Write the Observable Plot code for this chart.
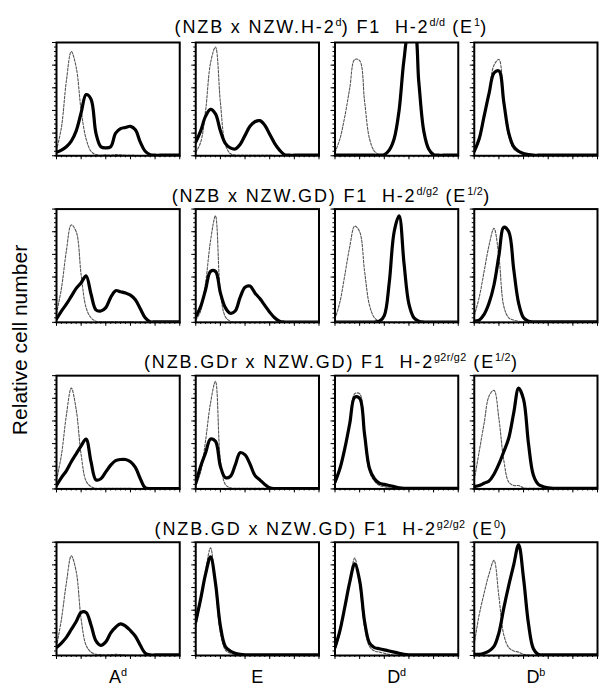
<!DOCTYPE html>
<html><head><meta charset="utf-8">
<script src="https://cdn.jsdelivr.net/npm/d3@7"></script>
<script src="https://cdn.jsdelivr.net/npm/@observablehq/plot@0.6"></script>
<style>
html,body{margin:0;padding:0;background:#fff;}
#chart{width:602px;height:686px;}
</style></head><body><div id="chart"></div>
<script>
// ---- categories & labels ----
const rowKeys = ["r1", "r2", "r3", "r4"];
const rowTitles = [
  "(NZB x NZW.H-2^{d}) F1  H-2^{d/d} (E^{1})",
  "(NZB x NZW.GD) F1  H-2^{d/g2} (E^{1/2})",
  "(NZB.GDr x NZW.GD) F1  H-2^{g2r/g2} (E^{1/2})",
  "(NZB.GD x NZW.GD) F1  H-2^{g2/g2} (E^{0})"
];
const markerKeys = ["Ad", "E", "Dd", "Db"];
const markerLabels = ["A^{d}", "E", "D^{d}", "D^{b}"];
const yLabel = "Relative cell number";

// ---- fluorescence channel grid (relative units) ----
const xGrid = [0,4,8,12,16,20,24,28,32,36,40,44,48,52,56,60,64,68,72,76,80,84,88,92,96,100];
const minorTicks = [0,4,8,12,16,20,24,28,32,36,40,44,48,52,56,60,64,68,72,76,80,84,88,92,96,100];
const majorTicks = [0,20,40,60,80,100];

// ---- histograms: control (dotted) and stained (thick) ----
const r1_Ad_ctrl  = [5,25,66,92,78,40,15,4,1,0.5, 0.8,0.5,1,0.8,0.5,0.5,0.3,0.3,0.3,0.3, 0.3,0.3,0.3,0.3,0.3,0.3];
const r1_Ad_stain = [3,5,8,13,22,38,54,50,20,8, 7,8,20,24,25,26,23,12,4,1, 0.5,0.5,0.5,0.5,0.5,0.5];
const r1_E_ctrl   = [3,12,40,82,96,47,10,2,0.5,0.5, 0.5,0.5,0.5,0.5,0.5,0.5,0.3,0.3,0.3,0.3, 0.3,0.3,0.3,0.3,0.3,0.3];
const r1_E_stain  = [12,22,35,41,37,22,11,7,6,10, 18,26,30,31,27,19,11,5,1,0.5, 0.5,0.5,0.5,0.5,0.5,0.5];
const r1_Dd_ctrl  = [3,15,35,60,85,84,48,15,4,1, 0.3,0.3,0.3,0.3,0.3,0.3,0.3,0.3,0.3,0.3, 0.3,0.3,0.3,0.3,0.3,0.3];
const r1_Dd_stain = [0.5,0.5,0.5,0.5,0.5,0.5,0.5,0.5,0.5,0.5, 1,5,15,40,85,110,112,65,22,6, 1,0.5,0.5,0.5,0.5,0.5];
const r1_Db_ctrl  = [3,13,33,56,80,85,45,17,6,3, 1,0.3,0.3,0.3,0.3,0.3,0.3,0.3,0.3,0.3, 0.3,0.3,0.3,0.3,0.3,0.3];
const r1_Db_stain = [4,15,35,55,73,75,47,20,8,4, 2,1,0.5,0.5,0.5,0.5,0.5,0.5,0.5,0.5, 0.5,0.5,0.5,0.5,0.5,0.5];

const r2_Ad_ctrl  = [8,30,63,86,80,42,13,4,1,0.5, 0.5,0.5,0.5,0.5,0.5,0.5,0.3,0.3,0.3,0.3, 0.3,0.3,0.3,0.3,0.3,0.3];
const r2_Ad_stain = [3,10,16,23,30,35,41,25,11,10, 13,22,28,27,26,24,20,12,4,0.5, 0.5,0.5,0.5,0.5,0.5,0.5];
const r2_E_ctrl   = [2,10,35,72,94,26,5,1,0.5,0.5, 0.5,0.5,0.5,0.5,0.5,0.5,0.3,0.3,0.3,0.3, 0.3,0.3,0.3,0.3,0.3,0.3];
const r2_E_stain  = [5,14,29,45,45,26,13,8,10,22, 31,32,26,21,15,9,4,1,0.3,0.3, 0.3,0.3,0.3,0.3,0.3,0.3];
const r2_Dd_ctrl  = [3,18,42,67,85,80,45,15,4,1, 0.3,0.3,0.3,0.3,0.3,0.3,0.3,0.3,0.3,0.3, 0.3,0.3,0.3,0.3,0.3,0.3];
const r2_Dd_stain = [0.3,0.3,0.3,0.3,0.3,0.3,0.3,0.3,0.3,1, 6,35,80,94,52,16,4,1,0.3,0.3, 0.3,0.3,0.3,0.3,0.3,0.3];
const r2_Db_ctrl  = [6,22,45,68,83,58,14,4,2,1, 0.5,0.5,0.5,0.5,0.5,0.5,0.5,0.5,0.5,0.5, 0.5,0.5,0.5,0.5,0.5,0.5];
const r2_Db_stain = [1,2,7,17,33,59,84,80,47,17, 4,1,0.5,0.5,0.5,0.5,0.5,0.5,0.5,0.5, 0.5,0.5,0.5,0.5,0.5,0.5];

const r3_Ad_ctrl  = [8,30,65,89,70,30,7,2,0.5,0.5, 0.5,0.5,0.5,0.5,0.5,0.5,0.3,0.3,0.3,0.3, 0.3,0.3,0.3,0.3,0.3,0.3];
const r3_Ad_stain = [3,10,16,24,31,38,44,24,8,9, 15,21,25,26,26,24,19,9,1,0.3, 0.3,0.3,0.3,0.3,0.3,0.3];
const r3_E_ctrl   = [3,15,43,76,95,25,4,1,0.5,0.5, 0.5,0.5,0.5,0.5,0.5,0.5,0.3,0.3,0.3,0.3, 0.3,0.3,0.3,0.3,0.3,0.3];
const r3_E_stain  = [5,20,32,44,42,20,10,11,21,32, 30,22,12,8,4,1,0.3,0.3,0.3,0.3, 0.3,0.3,0.3,0.3,0.3,0.3];
const r3_Dd_ctrl  = [4,17,35,58,84,84,45,15,7,3, 2,1,0.5,0.5,0.5,0.5,0.5,0.5,0.5,0.5, 0.5,0.5,0.5,0.5,0.5,0.5];
const r3_Dd_stain = [6,18,36,58,81,80,48,18,9,5, 4,3,2,1,0.5,0.5,0.5,0.5,0.5,0.5, 0.5,0.5,0.5,0.5,0.5,0.5];
const r3_Db_ctrl  = [8,33,58,82,87,62,25,6,3,3, 1,0.5,0.5,0.5,0.5,0.5,0.5,0.5,0.5,0.5, 0.5,0.5,0.5,0.5,0.5,0.5];
const r3_Db_stain = [2,3,5,7,13,22,33,45,67,89, 79,40,12,4,2,1,0.5,0.5,0.5,0.5, 0.5,0.5,0.5,0.5,0.5,0.5];

const r4_Ad_ctrl  = [8,32,64,88,74,32,9,3,1,0.8, 0.5,0.8,1,0.8,0.5,0.5,0.3,0.3,0.3,0.3, 0.3,0.3,0.3,0.3,0.3,0.3];
const r4_Ad_stain = [7,11,16,23,30,38,38,27,13,9, 12,20,25,28,26,22,17,9,2,0.5, 0.5,0.5,0.5,0.5,0.5,0.5];
const r4_E_ctrl   = [25,48,75,95,60,20,5,2,1,0.3, 0.3,0.3,0.3,0.3,0.3,0.3,0.3,0.3,0.3,0.3, 0.3,0.3,0.3,0.3,0.3,0.3];
const r4_E_stain  = [30,50,72,87,64,26,8,4,2,1, 0.5,0.5,0.5,0.5,0.5,0.5,0.5,0.5,0.5,0.5, 0.5,0.5,0.5,0.5,0.5,0.5];
const r4_Dd_ctrl  = [5,20,42,66,86,62,25,8,4,3, 2,1,0.3,0.3,0.3,0.3,0.3,0.3,0.3,0.3, 0.3,0.3,0.3,0.3,0.3,0.3];
const r4_Dd_stain = [7,22,43,65,81,66,30,11,7,6, 5,4,3,2,1,0.5,0.5,0.5,0.5,0.5, 0.5,0.5,0.5,0.5,0.5,0.5];
const r4_Db_ctrl  = [10,36,55,72,84,52,18,7,4,3, 1,0.5,0.5,0.5,0.5,0.5,0.5,0.5,0.5,0.5, 0.5,0.5,0.5,0.5,0.5,0.5];
const r4_Db_stain = [1,1,2,4,8,20,42,62,80,98, 68,28,6,1,0.5,0.5,0.5,0.5,0.5,0.5, 0.5,0.5,0.5,0.5,0.5,0.5];

// ---- table built from the arrays ----
const panels = [
  ["r1","Ad",r1_Ad_ctrl,r1_Ad_stain],["r1","E",r1_E_ctrl,r1_E_stain],["r1","Dd",r1_Dd_ctrl,r1_Dd_stain],["r1","Db",r1_Db_ctrl,r1_Db_stain],
  ["r2","Ad",r2_Ad_ctrl,r2_Ad_stain],["r2","E",r2_E_ctrl,r2_E_stain],["r2","Dd",r2_Dd_ctrl,r2_Dd_stain],["r2","Db",r2_Db_ctrl,r2_Db_stain],
  ["r3","Ad",r3_Ad_ctrl,r3_Ad_stain],["r3","E",r3_E_ctrl,r3_E_stain],["r3","Dd",r3_Dd_ctrl,r3_Dd_stain],["r3","Db",r3_Db_ctrl,r3_Db_stain],
  ["r4","Ad",r4_Ad_ctrl,r4_Ad_stain],["r4","E",r4_E_ctrl,r4_E_stain],["r4","Dd",r4_Dd_ctrl,r4_Dd_stain],["r4","Db",r4_Db_ctrl,r4_Db_stain]
];
const ctrlRows = [], stainRows = [];
for (const [row, marker, ctrl, stain] of panels) {
  xGrid.forEach((x, i) => {
    ctrlRows.push({row, marker, x, y: ctrl[i]});
    stainRows.push({row, marker, x, y: stain[i]});
  });
}
const titleRows = rowKeys.map((row, i) => ({row, title: rowTitles[i]}));

const svg = Plot.plot({
  width: 602,
  height: 686,
  marginLeft: 56,
  marginRight: 5,
  marginTop: 42,
  marginBottom: 31,
  style: {fontFamily: "'Liberation Sans', Arial, Helvetica, sans-serif", background: "#fff", color: "#000"},
  x: {domain: [0, 100]},
  y: {domain: [0, 100]},
  fx: {domain: markerKeys, paddingInner: 0.115, paddingOuter: 0, round: false},
  fy: {domain: rowKeys, paddingInner: 0.32, paddingOuter: 0, round: false},
  marks: [
    Plot.line(ctrlRows, {x: "x", y: "y", fx: "marker", fy: "row", curve: "catmull-rom",
      stroke: "#555", strokeWidth: 1.1, strokeDasharray: "2.5,1.5", clip: true}),
    Plot.line(stainRows, {x: "x", y: "y", fx: "marker", fy: "row", curve: "catmull-rom",
      stroke: "#000", strokeWidth: 3.2, strokeLinejoin: "round", clip: true}),
    Plot.frame({stroke: "#000", strokeWidth: 2}),
    Plot.axisY({anchor: "left", ticks: minorTicks, tickSize: 2, tickFormat: () => "", label: null, facetAnchor: null}),
    Plot.axisY({anchor: "left", ticks: majorTicks, tickSize: 4, tickFormat: () => "", label: null, facetAnchor: null}),
    Plot.axisX({anchor: "bottom", ticks: minorTicks, tickSize: 2, tickFormat: () => "", label: null, facetAnchor: null}),
    Plot.axisX({anchor: "bottom", ticks: majorTicks, tickSize: 4, tickFormat: () => "", label: null, facetAnchor: null}),
    Plot.axisFx({anchor: "bottom", tickSize: 0, tickPadding: 15, label: null, fontSize: 18,
      tickFormat: d => markerLabels[markerKeys.indexOf(d)]}),
    Plot.axisFy({anchor: "left", tickSize: 0, tickFormat: () => "", label: yLabel,
      labelAnchor: "center", labelOffset: 44, fontSize: 21}),
    Plot.text(titleRows.slice(0, 1), {fx: () => "E", fy: "row", text: "title", frameAnchor: "top",
      dx: 74, dy: -22, fontSize: 18, fill: "#000"}),
    Plot.text(titleRows.slice(1), {fx: () => "E", fy: "row", text: "title", frameAnchor: "top",
      dx: 74, dy: -20, fontSize: 18, fill: "#000"})
  ]
});
document.getElementById("chart").appendChild(svg);

// superscript markup  x^{sup}  -> tspans
const NS = "http://www.w3.org/2000/svg";
svg.querySelectorAll("text").forEach(t => {
  const s = t.textContent;
  if (s === yLabel) { t.setAttribute("font-size", "21"); t.setAttribute("dx", "9"); return; }
  if (!s.includes("^{")) return;
  const fs = parseFloat(getComputedStyle(t).fontSize) || 18;
  const isTitle = rowTitles.includes(s);
  if (isTitle) { t.style.letterSpacing = "1.85px"; }
  t.style.whiteSpace = "pre";
  t.setAttributeNS("http://www.w3.org/XML/1998/namespace", "xml:space", "preserve");
  t.textContent = "";
  const parts = s.split(/(\^\{[^}]*\})/);
  const shift = fs * 0.4;
  let raised = false;
  for (const part of parts) {
    if (!part) continue;
    const sup = part.startsWith("^{");
    const ts = document.createElementNS(NS, "tspan");
    ts.textContent = sup ? part.slice(2, -1) : part;
    if (sup) {
      ts.setAttribute("font-size", (fs * 0.6).toFixed(1));
      if (isTitle) ts.style.letterSpacing = "0.3px";
      if (!raised) ts.setAttribute("dy", (-shift).toFixed(1));
      raised = true;
    } else if (raised) {
      ts.setAttribute("dy", shift.toFixed(1));
      raised = false;
    }
    t.appendChild(ts);
  }
});
</script></body></html>
